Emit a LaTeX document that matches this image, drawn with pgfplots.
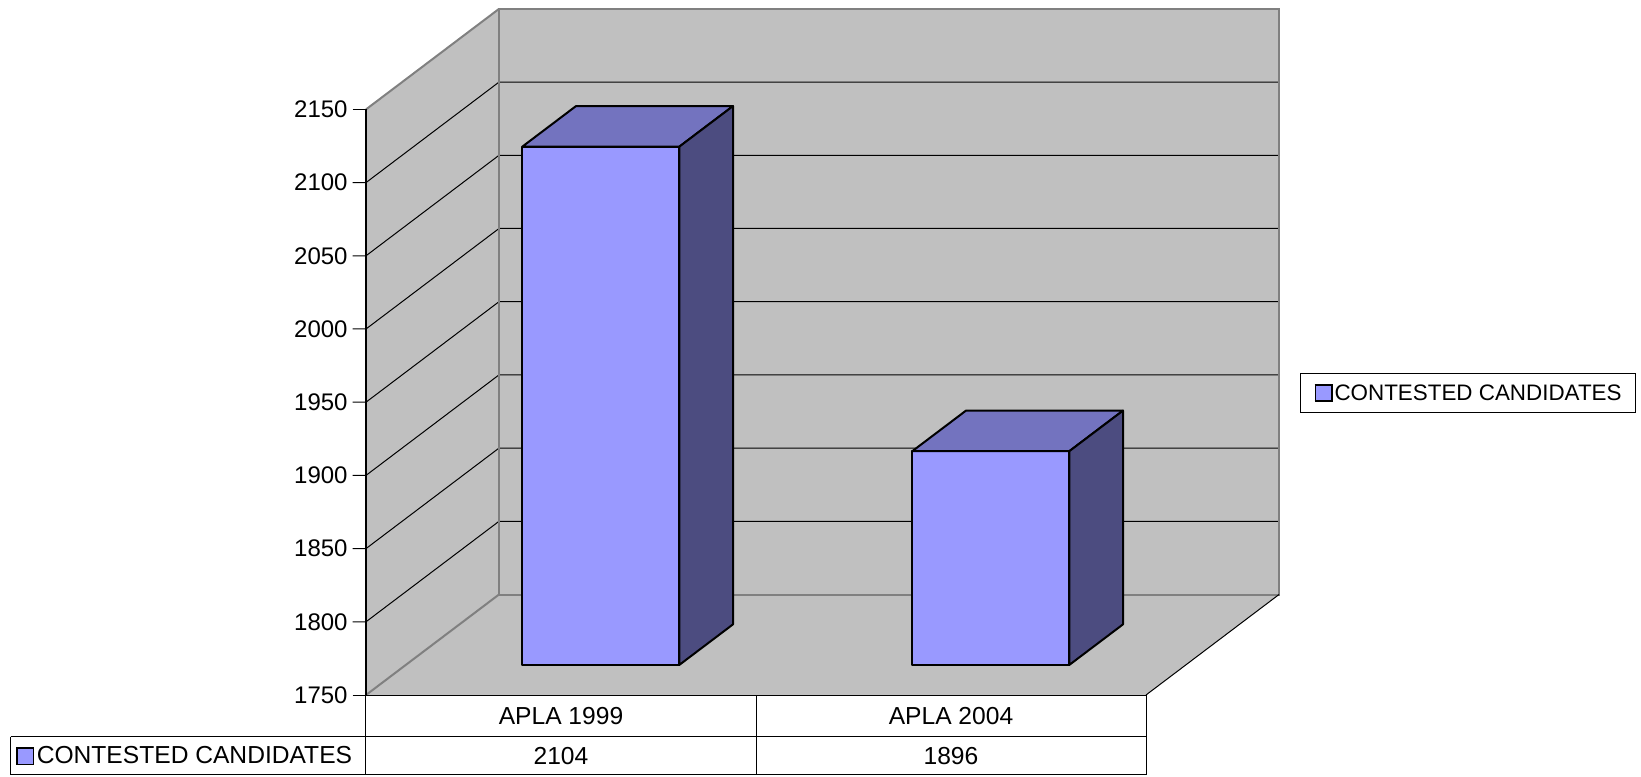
\documentclass[border=0pt]{standalone}
\usepackage{pgfplots}
\pgfplotsset{compat=1.18}
\usepackage{fontspec}
\setmainfont{Liberation Sans}
\definecolor{wall}{HTML}{C0C0C0}
\definecolor{edge}{HTML}{808080}
\definecolor{barfront}{HTML}{9999FF}
\definecolor{bartop}{HTML}{7373BF}
\definecolor{barside}{HTML}{4C4C80}
\newcommand{\tfont}{\fontsize{12.3}{14}\selectfont}
\newcommand{\lfont}{\fontsize{11.2}{13}\selectfont}
\newcommand{\keybox}{{\setlength{\fboxsep}{0pt}\setlength{\fboxrule}{0.9pt}\fcolorbox{black}{barfront}{\rule{0pt}{7.2pt}\rule{7.2pt}{0pt}}}}
\begin{document}
\begin{tikzpicture}
\begin{axis}[
  x={(195pt,0pt)}, y={(66.5pt,50.25pt)}, z={(0pt,0.732pt)},
  xmin=0, xmax=2, ymin=0, ymax=1, zmin=1750, zmax=2150,
  axis lines=left,
  axis line style={-, draw=none},
  xtick=\empty, ytick=\empty,
  ztick={1750,1800,...,2150},
  major tick length=0pt,
  major tick style={draw=none},
  z tick label style={anchor=east, inner sep=0pt, xshift=-9pt},
  tick label style={font=\fontsize{12}{14}\selectfont},
  /pgf/number format/assume math mode=true,
  /pgf/number format/1000 sep={},
  clip=false,
]
% walls
\addplot3[fill=wall, draw=none] coordinates {(0,0,1750) (2,0,1750) (2,1,1750) (0,1,1750)} -- cycle;
\addplot3[fill=wall, draw=none] coordinates {(0,0,1750) (0,1,1750) (0,1,2150) (0,0,2150)} -- cycle;
\addplot3[fill=wall, draw=none] coordinates {(0,1,1750) (2,1,1750) (2,1,2150) (0,1,2150)} -- cycle;
% gridlines (left wall + back wall) with outward tick marks on the value axis
\addplot3[black, line width=0.5pt] coordinates {(-0.0342,0,1750) (0,0,1750)};
\addplot3[black, line width=0.5pt] coordinates {(-0.0342,0,1800) (0,0,1800) (0,1,1800) (2,1,1800)};
\addplot3[black, line width=0.5pt] coordinates {(-0.0342,0,1850) (0,0,1850) (0,1,1850) (2,1,1850)};
\addplot3[black, line width=0.5pt] coordinates {(-0.0342,0,1900) (0,0,1900) (0,1,1900) (2,1,1900)};
\addplot3[black, line width=0.5pt] coordinates {(-0.0342,0,1950) (0,0,1950) (0,1,1950) (2,1,1950)};
\addplot3[black, line width=0.5pt] coordinates {(-0.0342,0,2000) (0,0,2000) (0,1,2000) (2,1,2000)};
\addplot3[black, line width=0.5pt] coordinates {(-0.0342,0,2050) (0,0,2050) (0,1,2050) (2,1,2050)};
\addplot3[black, line width=0.5pt] coordinates {(-0.0342,0,2100) (0,0,2100) (0,1,2100) (2,1,2100)};
\addplot3[black, line width=0.5pt] coordinates {(-0.0342,0,2150) (0,0,2150)};
% wall edges
\addplot3[edge, line width=1pt] coordinates {(0,1,1750) (2,1,1750) (2,1,2150) (0,1,2150) (0,1,1750)};
\addplot3[edge, line width=1pt] coordinates {(0,0,2150) (0,1,2150)};
\addplot3[edge, line width=1pt] coordinates {(0,0,1750) (0,1,1750)};
\addplot3[black, line width=0.5pt] coordinates {(2,0,1750) (2,1,1750)};
\addplot3[black, line width=1pt] coordinates {(0,0,1750) (0,0,2150)};
% bar 1: APLA 1999 = 2104
\addplot3[fill=barfront, draw=black, line width=1pt, line join=round] coordinates {(0.2987,0.299,1750) (0.7013,0.299,1750) (0.7013,0.299,2104) (0.2987,0.299,2104)} -- cycle;
\addplot3[fill=bartop, draw=black, line width=1pt, line join=round] coordinates {(0.2987,0.299,2104) (0.7013,0.299,2104) (0.7013,0.703,2104) (0.2987,0.703,2104)} -- cycle;
\addplot3[fill=barside, draw=black, line width=1pt, line join=round] coordinates {(0.7013,0.299,1750) (0.7013,0.703,1750) (0.7013,0.703,2104) (0.7013,0.299,2104)} -- cycle;
% bar 2: APLA 2004 = 1896
\addplot3[fill=barfront, draw=black, line width=1pt, line join=round] coordinates {(1.2987,0.299,1750) (1.7013,0.299,1750) (1.7013,0.299,1896) (1.2987,0.299,1896)} -- cycle;
\addplot3[fill=bartop, draw=black, line width=1pt, line join=round] coordinates {(1.2987,0.299,1896) (1.7013,0.299,1896) (1.7013,0.703,1896) (1.2987,0.703,1896)} -- cycle;
\addplot3[fill=barside, draw=black, line width=1pt, line join=round] coordinates {(1.7013,0.299,1750) (1.7013,0.703,1750) (1.7013,0.703,1896) (1.7013,0.299,1896)} -- cycle;
% data table
\draw[black, line width=0.5pt] (axis cs:0,0,1750) -- (axis cs:2,0,1750);
\draw[black, line width=0.5pt] (axis cs:-0.911,0,1721.52) -- (axis cs:2,0,1721.52);
\draw[black, line width=0.5pt] (axis cs:-0.911,0,1695.36) -- (axis cs:2,0,1695.36);
\draw[black, line width=0.5pt] (axis cs:-0.911,0,1721.52) -- (axis cs:-0.911,0,1695.36);
\draw[black, line width=0.5pt] (axis cs:0,0,1750) -- (axis cs:0,0,1695.36);
\draw[black, line width=0.5pt] (axis cs:1,0,1750) -- (axis cs:1,0,1695.36);
\draw[black, line width=0.5pt] (axis cs:2,0,1750) -- (axis cs:2,0,1695.36);
\node[font=\tfont] at (axis cs:0.5,0,1735.76) {APLA 1999};
\node[font=\tfont] at (axis cs:1.5,0,1735.76) {APLA 2004};
\node[font=\tfont] at (axis cs:0.5,0,1708.4) {2104};
\node[font=\tfont] at (axis cs:1.5,0,1708.4) {1896};
\node[font=\tfont, anchor=west, inner sep=0pt] at (axis cs:-0.8974,0,1708.4) {\keybox\hspace{1.2pt}CONTESTED CANDIDATES};
% legend
\node[font=\lfont, anchor=west, draw=black, line width=0.5pt, fill=white, inner xsep=7pt, minimum height=19.5pt] at (axis cs:2.3949,0,1956.4) {\keybox\hspace{1pt}CONTESTED CANDIDATES};
\coordinate (BL) at (axis cs:-0.93846,0,1694.67);
\coordinate (TR) at (axis cs:3.26923,0,2224.73);
\end{axis}
\pgfresetboundingbox
\path[use as bounding box] (BL) rectangle (TR);
\end{tikzpicture}
\end{document}
